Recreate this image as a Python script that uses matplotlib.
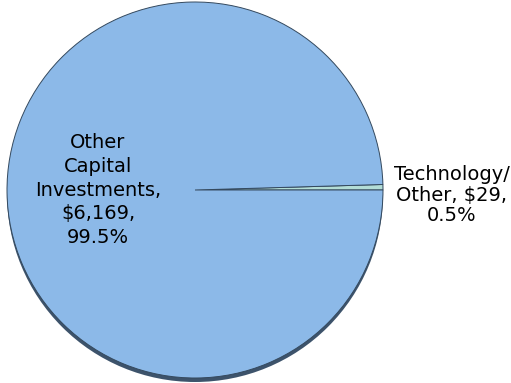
import matplotlib
matplotlib.use("Agg")
import matplotlib.pyplot as plt
from matplotlib.patches import Circle

# Capital budget split ($ thousands)
categories = ["Technology/\nOther", "Other\nCapital\nInvestments"]
values = [29, 6169]
pct_labels = ["0.5%", "99.5%"]
value_labels = ["$29", "$6,169"]
colors = ["#b3ddd6", "#8cb9e8"]

W, H = 511, 383
fig = plt.figure(figsize=(W / 100, H / 100), dpi=100)
ax = fig.add_axes([0, 0, 1, 1])

cx, cy, r = 195, H - 190, 188

# soft drop shadow under the disc
ax.add_patch(Circle((cx, cy - 4), r, facecolor="#3d536b", edgecolor="none", zorder=0))

wedges, _ = ax.pie(values, colors=colors, startangle=0, counterclock=True,
                   center=(cx, cy), radius=r, frame=True,
                   wedgeprops=dict(edgecolor="#34495e", linewidth=0.7))
for w in wedges:
    w.set_zorder(1)

font = dict(family="DejaVu Sans", fontsize=14, color="black",
            ha="center", va="center", zorder=3)

ax.text(98, H - 190,
        f"{categories[1]},\n{value_labels[1]},\n{pct_labels[1]}",
        linespacing=1.33, **font)
ax.text(452, H - 195,
        f"{categories[0]}, {value_labels[0]},\n{pct_labels[0]}",
        linespacing=1.1, **font)

ax.set_xlim(0, W)
ax.set_ylim(0, H)
ax.set_aspect("auto")
ax.axis("off")

fig.savefig("out.png", dpi=100)
